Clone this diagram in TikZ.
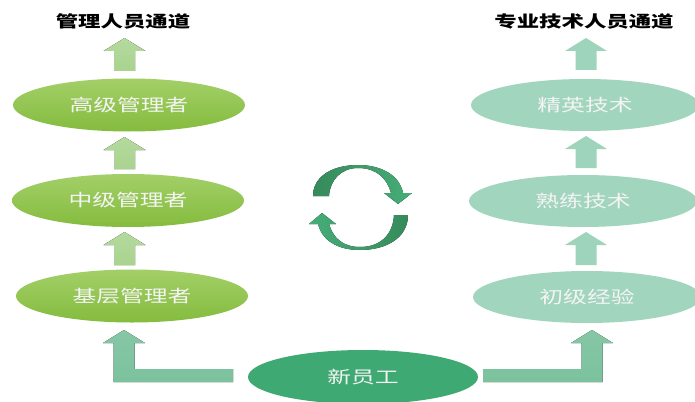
\documentclass[tikz,border=0pt]{standalone}
\usepackage{graphicx}
\usepackage{fontspec}
\newfontfamily\cjk{Noto Sans CJK SC}
\usetikzlibrary{shapes.geometric}
\definecolor{lgtop}{HTML}{A3CF68}
\definecolor{lgbot}{HTML}{84BC3E}
\definecolor{mint}{HTML}{A1D5BE}
\definecolor{lgarrT}{HTML}{B4DA9E}
\definecolor{lgarrB}{HTML}{A9D38F}
\definecolor{mintarr}{HTML}{9ED4BB}
\definecolor{larrT}{HTML}{86C7A6}
\definecolor{larrB}{HTML}{7CC29D}
\definecolor{newc}{HTML}{3EA972}
\definecolor{cycdark}{HTML}{368A5A}
\definecolor{cyclight}{HTML}{46AE79}
\definecolor{txtw}{HTML}{F4F4F4}
\newcommand{\wide}[1]{\scalebox{1.4}[1]{#1}}
\tikzset{
  lnode/.style={ellipse, minimum width=232pt, minimum height=53pt, inner sep=0pt,
    top color=lgtop, bottom color=lgbot, text=txtw, font=\cjk\fontsize{17}{17}\selectfont},
  rnode/.style={ellipse, minimum width=228pt, minimum height=52pt, inner sep=0pt,
    fill=mint, text=txtw, font=\cjk\fontsize{17}{17}\selectfont},
  nnode/.style={ellipse, minimum width=230pt, minimum height=54pt, inner sep=0pt,
    fill=newc, text=txtw, font=\cjk\fontsize{17}{17}\selectfont},
  title/.style={font=\cjk\bfseries\fontsize{16}{16}\selectfont, text=black},
  larr/.style={top color=lgarrT, bottom color=lgarrB, draw=none},
  rarr/.style={fill=mintarr, draw=none},
  barr/.style={top color=larrT, bottom color=larrB, draw=none},
}
% block up arrow: centre x, bottom y, tip y
\newcommand{\blockup}[4]{%
  \fill[#1] (#2-10.5,#3) -- (#2-10.5,#4+13) -- (#2-21,#4+13) -- (#2,#4) -- (#2+21,#4+13)
    -- (#2+10.5,#4+13) -- (#2+10.5,#3) -- cycle;}
\begin{document}
\begin{tikzpicture}[x=1pt,y=-1pt]
\useasboundingbox[fill=white] (0,0) rectangle (695,401);

% titles
\node[title] (tl) at (123,21) {\wide{管理人员通道}};
\node[title] (tr) at (584,21) {\wide{专业技术人员通道}};

% left column
\node[lnode] (l3) at (129,105) {\wide{高级管理者}};
\node[lnode] (l2) at (128,200.5) {\wide{中级管理者}};
\node[lnode] (l1) at (132,296) {\wide{基层管理者}};

% right column
\node[rnode] (r3) at (585,105) {\wide{精英技术}};
\node[rnode] (r2) at (583,201) {\wide{熟练技术}};
\node[rnode] (r1) at (587,297) {\wide{初级经验}};

% new staff
\node[nnode] (n) at (363,377) {\wide{新员工}};

% left arrows
\blockup{larr}{124.5}{71}{38}
\blockup{larr}{124.5}{169}{137}
\blockup{larr}{124.5}{265}{232}
% right arrows
\blockup{rarr}{586}{70}{38}
\blockup{rarr}{586}{168}{136}
\blockup{rarr}{586}{265}{232}

% L arrows from new staff
\fill[barr] (233,369) -- (134.5,369) -- (134.5,343) -- (145,343) -- (124,330) -- (103,343)
  -- (113.5,343) -- (113.5,382) -- (233,382) -- cycle;
\fill[barr] (483,369) -- (581.5,369) -- (581.5,343) -- (571,343) -- (592,330) -- (613,343)
  -- (602.5,343) -- (602.5,382) -- (483,382) -- cycle;

% cycle arrows
\fill[left color=cycdark, right color=cyclight]
  (313,196) .. controls (313,176) and (333,165) .. (358,165)
  .. controls (382,165) and (400,176) .. (403,193) -- (412,193) -- (398,204) -- (384,193)
  -- (391,193) .. controls (387,178) and (376,168) .. (358,168)
  .. controls (341,168) and (330,180) .. (329,196) -- cycle;
\fill[left color=cyclight, right color=cycdark]
  (408,215) .. controls (408,238) and (386,250) .. (360,250)
  .. controls (337,250) and (322,240) .. (318,224) -- (309,224) -- (322,213) -- (336,224)
  -- (329,224) .. controls (333,238) and (343,247) .. (360,247)
  .. controls (380,247) and (393,235) .. (394,215) -- cycle;
\end{tikzpicture}
\end{document}
